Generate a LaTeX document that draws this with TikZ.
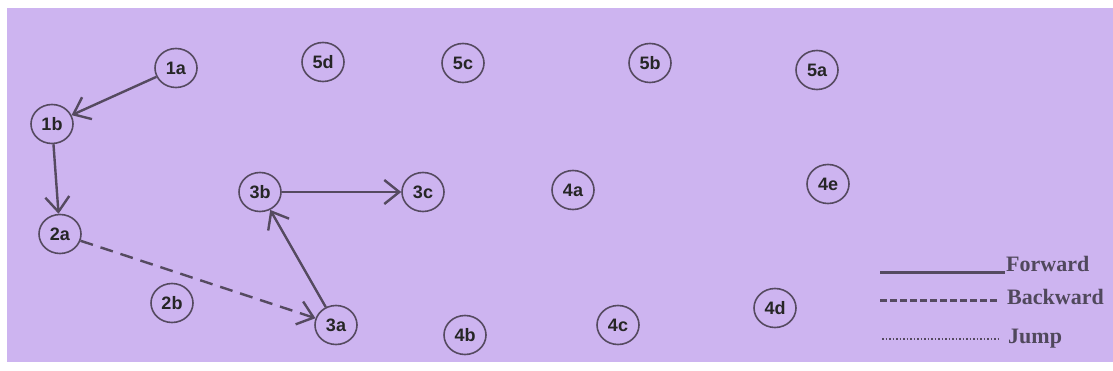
\documentclass[tikz,border=0pt]{standalone}
\usepackage{fontspec}
\setmainfont{Liberation Sans}
\newfontfamily\legfont{Liberation Serif}
\usetikzlibrary{arrows.meta,shapes.geometric}
\definecolor{bgpurple}{RGB}{205,180,240}
\definecolor{edgecol}{RGB}{85,74,96}
\definecolor{legtext}{RGB}{80,72,92}
\begin{document}
\begin{tikzpicture}[x=1pt,y=-1pt,
  state/.style={ellipse,draw=edgecol,line width=1.6pt,minimum width=42pt,minimum height=39pt,inner sep=0pt,
    font=\bfseries\fontsize{18}{18}\selectfont,text=black!85},
  fwd/.style={draw=edgecol,line width=2.4pt,-{Straight Barb[length=15pt,width=24pt,line width=2.4pt]}},
  bwd/.style={fwd,dash pattern=on 13pt off 8pt},
  legtxt/.style={anchor=base west,inner sep=0pt,text=legtext,font=\legfont\bfseries\fontsize{22}{22}\selectfont}
]
\useasboundingbox (0,0) rectangle (1113,371);
\fill[white] (0,0) rectangle (1113,371);
\fill[bgpurple] (7,8) rectangle (1113,362);

\node[state] (n1a) at (176,68) {\raisebox{-3pt}{1a}};
\node[state] (n1b) at (52,124) {\raisebox{-3pt}{1b}};
\node[state] (n2a) at (60,234) {\raisebox{-3pt}{2a}};
\node[state] (n2b) at (172,303) {\raisebox{-3pt}{2b}};
\node[state] (n3a) at (336,325) {\raisebox{-3pt}{3a}};
\node[state] (n3b) at (260,192) {\raisebox{-3pt}{3b}};
\node[state] (n3c) at (423,192) {\raisebox{-3pt}{3c}};
\node[state] (n4a) at (573,190) {\raisebox{-3pt}{4a}};
\node[state] (n4b) at (465,335) {\raisebox{-3pt}{4b}};
\node[state] (n4c) at (618,325) {\raisebox{-3pt}{4c}};
\node[state] (n4d) at (775,308) {\raisebox{-3pt}{4d}};
\node[state] (n4e) at (828,184) {\raisebox{-3pt}{4e}};
\node[state] (n5a) at (817,70) {\raisebox{-3pt}{5a}};
\node[state] (n5b) at (650,63) {\raisebox{-3pt}{5b}};
\node[state] (n5c) at (463,63) {\raisebox{-3pt}{5c}};
\node[state] (n5d) at (323,62) {\raisebox{-3pt}{5d}};

\draw[fwd] (n1a) -- (n1b);
\draw[fwd] (n1b) -- (n2a);
\draw[bwd] (n2a) -- (n3a);
\draw[fwd] (n3a) -- (n3b);
\draw[fwd] (n3b) -- (n3c);

% legend
\coordinate (lf1) at (880,273);
\coordinate (lf2) at (1005,273);
\coordinate (lb1) at (880,300);
\coordinate (lb2) at (999,300);
\coordinate (lj1) at (882,339);
\coordinate (lj2) at (998,339);
\draw[edgecol,line width=3pt] (lf1) -- (lf2);
\draw[edgecol,line width=3pt,dash pattern=on 7pt off 3pt] (lb1) -- (lb2);
\draw[edgecol,line width=1.2pt,dash pattern=on 1.5pt off 2pt] (lj1) -- (lj2);
\node[legtxt] (tf) at (1006,272) {Forward};
\node[legtxt] (tb) at (1007,305) {Backward};
\node[legtxt] (tj) at (1008,343) {Jump};
\end{tikzpicture}
\end{document}
